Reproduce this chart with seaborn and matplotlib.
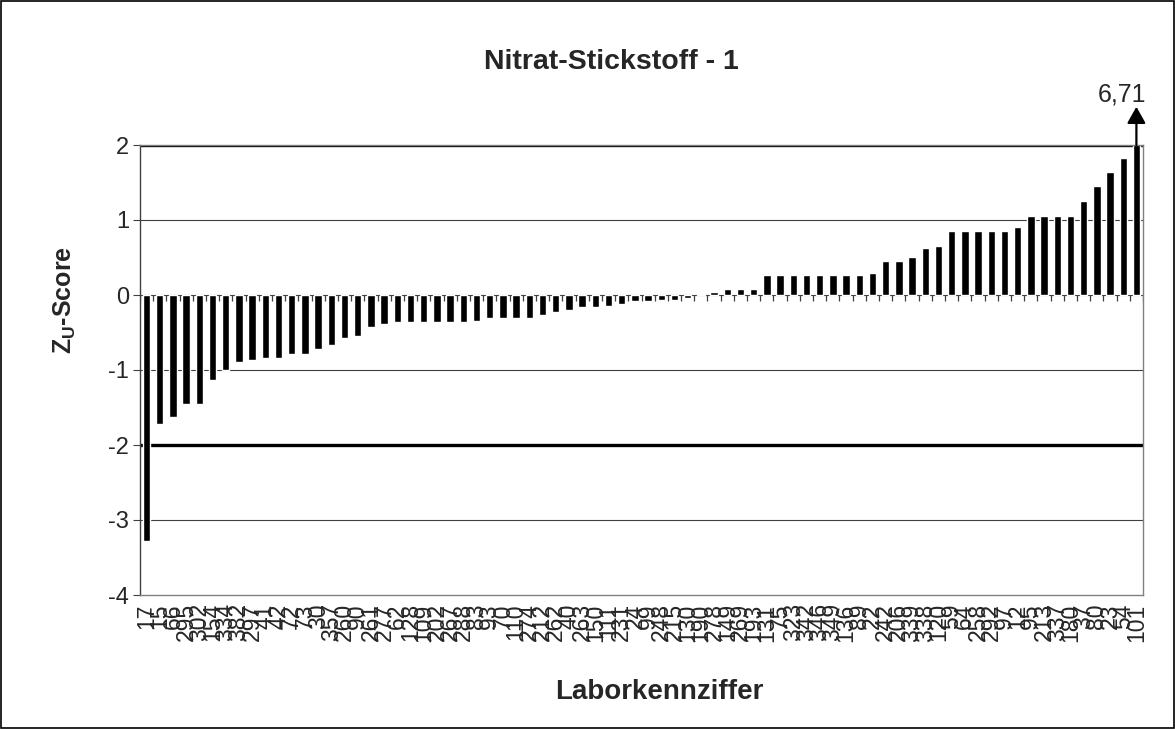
import numpy as np
import pandas as pd
import seaborn as sns
import matplotlib.pyplot as plt
from matplotlib.patches import Rectangle

# lab codes, sorted by z-score (left to right)
labs = ['17', '15', '66', '295', '302', '154', '334', '382', '297', '41',
        '42', '72', '73', '30', '357', '260', '90', '261', '277', '62',
        '128', '109', '202', '267', '288', '83', '93', '70', '110', '274',
        '212', '262', '40', '263', '150', '111', '231', '24', '99', '248',
        '215', '130', '190', '278', '149', '269', '193', '131', '75', '323',
        '342', '346', '349', '136', '89', '22', '242', '206', '339', '338',
        '120', '59', '64', '258', '292', '97', '12', '95', '213', '337',
        '180', '37', '80', '23', '54', '101']

zu = [-3.28, -1.72, -1.62, -1.45, -1.45, -1.13, -1.00, -0.89, -0.86, -0.84,
      -0.84, -0.79, -0.79, -0.72, -0.67, -0.57, -0.55, -0.42, -0.38, -0.36,
      -0.36, -0.36, -0.36, -0.36, -0.36, -0.34, -0.31, -0.31, -0.31, -0.30,
      -0.26, -0.22, -0.20, -0.16, -0.16, -0.15, -0.12, -0.08, -0.08, -0.07,
      -0.06, -0.04, 0.02, 0.04, 0.08, 0.08, 0.08, 0.27, 0.27, 0.27,
      0.27, 0.27, 0.27, 0.27, 0.27, 0.29, 0.46, 0.46, 0.51, 0.63,
      0.66, 0.85, 0.85, 0.85, 0.85, 0.85, 0.91, 1.05, 1.05, 1.05,
      1.05, 1.25, 1.45, 1.64, 1.83, 6.71]

grid_y = [-3, -1, 1]
limits = [-2, 2]
out_label = '6,71'

df = pd.DataFrame({'Labor': labs, 'Zu': zu})
n = len(df)

sns.set_style('white')
plt.rcParams['font.family'] = ['Liberation Sans', 'DejaVu Sans']
plt.rcParams['axes.unicode_minus'] = False
plt.rcParams['mathtext.fontset'] = 'custom'
plt.rcParams['mathtext.rm'] = 'Liberation Sans'
plt.rcParams['mathtext.it'] = 'Liberation Sans:italic'
plt.rcParams['mathtext.bf'] = 'Liberation Sans:bold'

fig = plt.figure(figsize=(11.75, 7.29), dpi=100)
ax = fig.add_axes([140 / 1175, 1 - 595 / 729, 1003 / 1175, 450 / 729])

for y in grid_y:
    ax.axhline(y, color='#404040', lw=0.8, zorder=0)
for y in limits:
    ax.axhline(y, color='black', lw=2.4, zorder=1)
ax.axhline(0, color='#404040', lw=0.8, zorder=1)

sns.barplot(data=df, x='Labor', y='Zu', order=labs, color='black',
            saturation=1, width=0.56, ax=ax, zorder=2)

# category ticks hanging off the zero line
ax.vlines(np.arange(n + 1) - 0.5, -0.08, 0, color='#404040', lw=0.9, zorder=1)

ax.set_xlim(-0.5, n - 0.5)
ax.set_ylim(-4, 2)
ax.set_yticks(range(-4, 3))
ax.tick_params(axis='y', left=True, length=5, width=0.8, color='#404040',
               labelsize=17, pad=3)
ax.tick_params(axis='x', length=0, labelsize=16.5, pad=6, labelrotation=90)
for s in ax.spines.values():
    s.set_color('#808080')
    s.set_linewidth(1)
ax.spines['left'].set_color('#404040')

ax.set_xlabel('Laborkennziffer', fontsize=20, fontweight='bold')
ax.xaxis.set_label_coords(0.518, -0.186)
ax.set_ylabel(r'$\mathbf{Z_U}$-Score', fontsize=18, fontweight='bold')
ax.yaxis.set_label_coords(-0.062, 0.656)

fig.text(611 / 1175, 1 - 62 / 729, 'Nitrat-Stickstoff - 1', ha='center',
         va='center', fontsize=20.5, fontweight='bold')

# out-of-range arrow for the last lab
ax.annotate('', xy=(n - 1, 2.51), xytext=(n - 1, limits[1]),
            arrowprops=dict(arrowstyle='-|>,head_length=0.5,head_width=0.28',
                            color='black', lw=1.6, mutation_scale=20,
                            shrinkA=0, shrinkB=0),
            annotation_clip=False)
ax.annotate(out_label, xy=(n - 1, 2.51), xytext=(-14, 5),
            textcoords='offset pixels', ha='center', va='baseline',
            fontsize=18, annotation_clip=False)

fig.add_artist(Rectangle((0.0008, 0.0012), 0.9984, 0.9976,
                         transform=fig.transFigure, fill=False,
                         edgecolor='black', lw=1.2))

fig.savefig('out.png', dpi=100)
